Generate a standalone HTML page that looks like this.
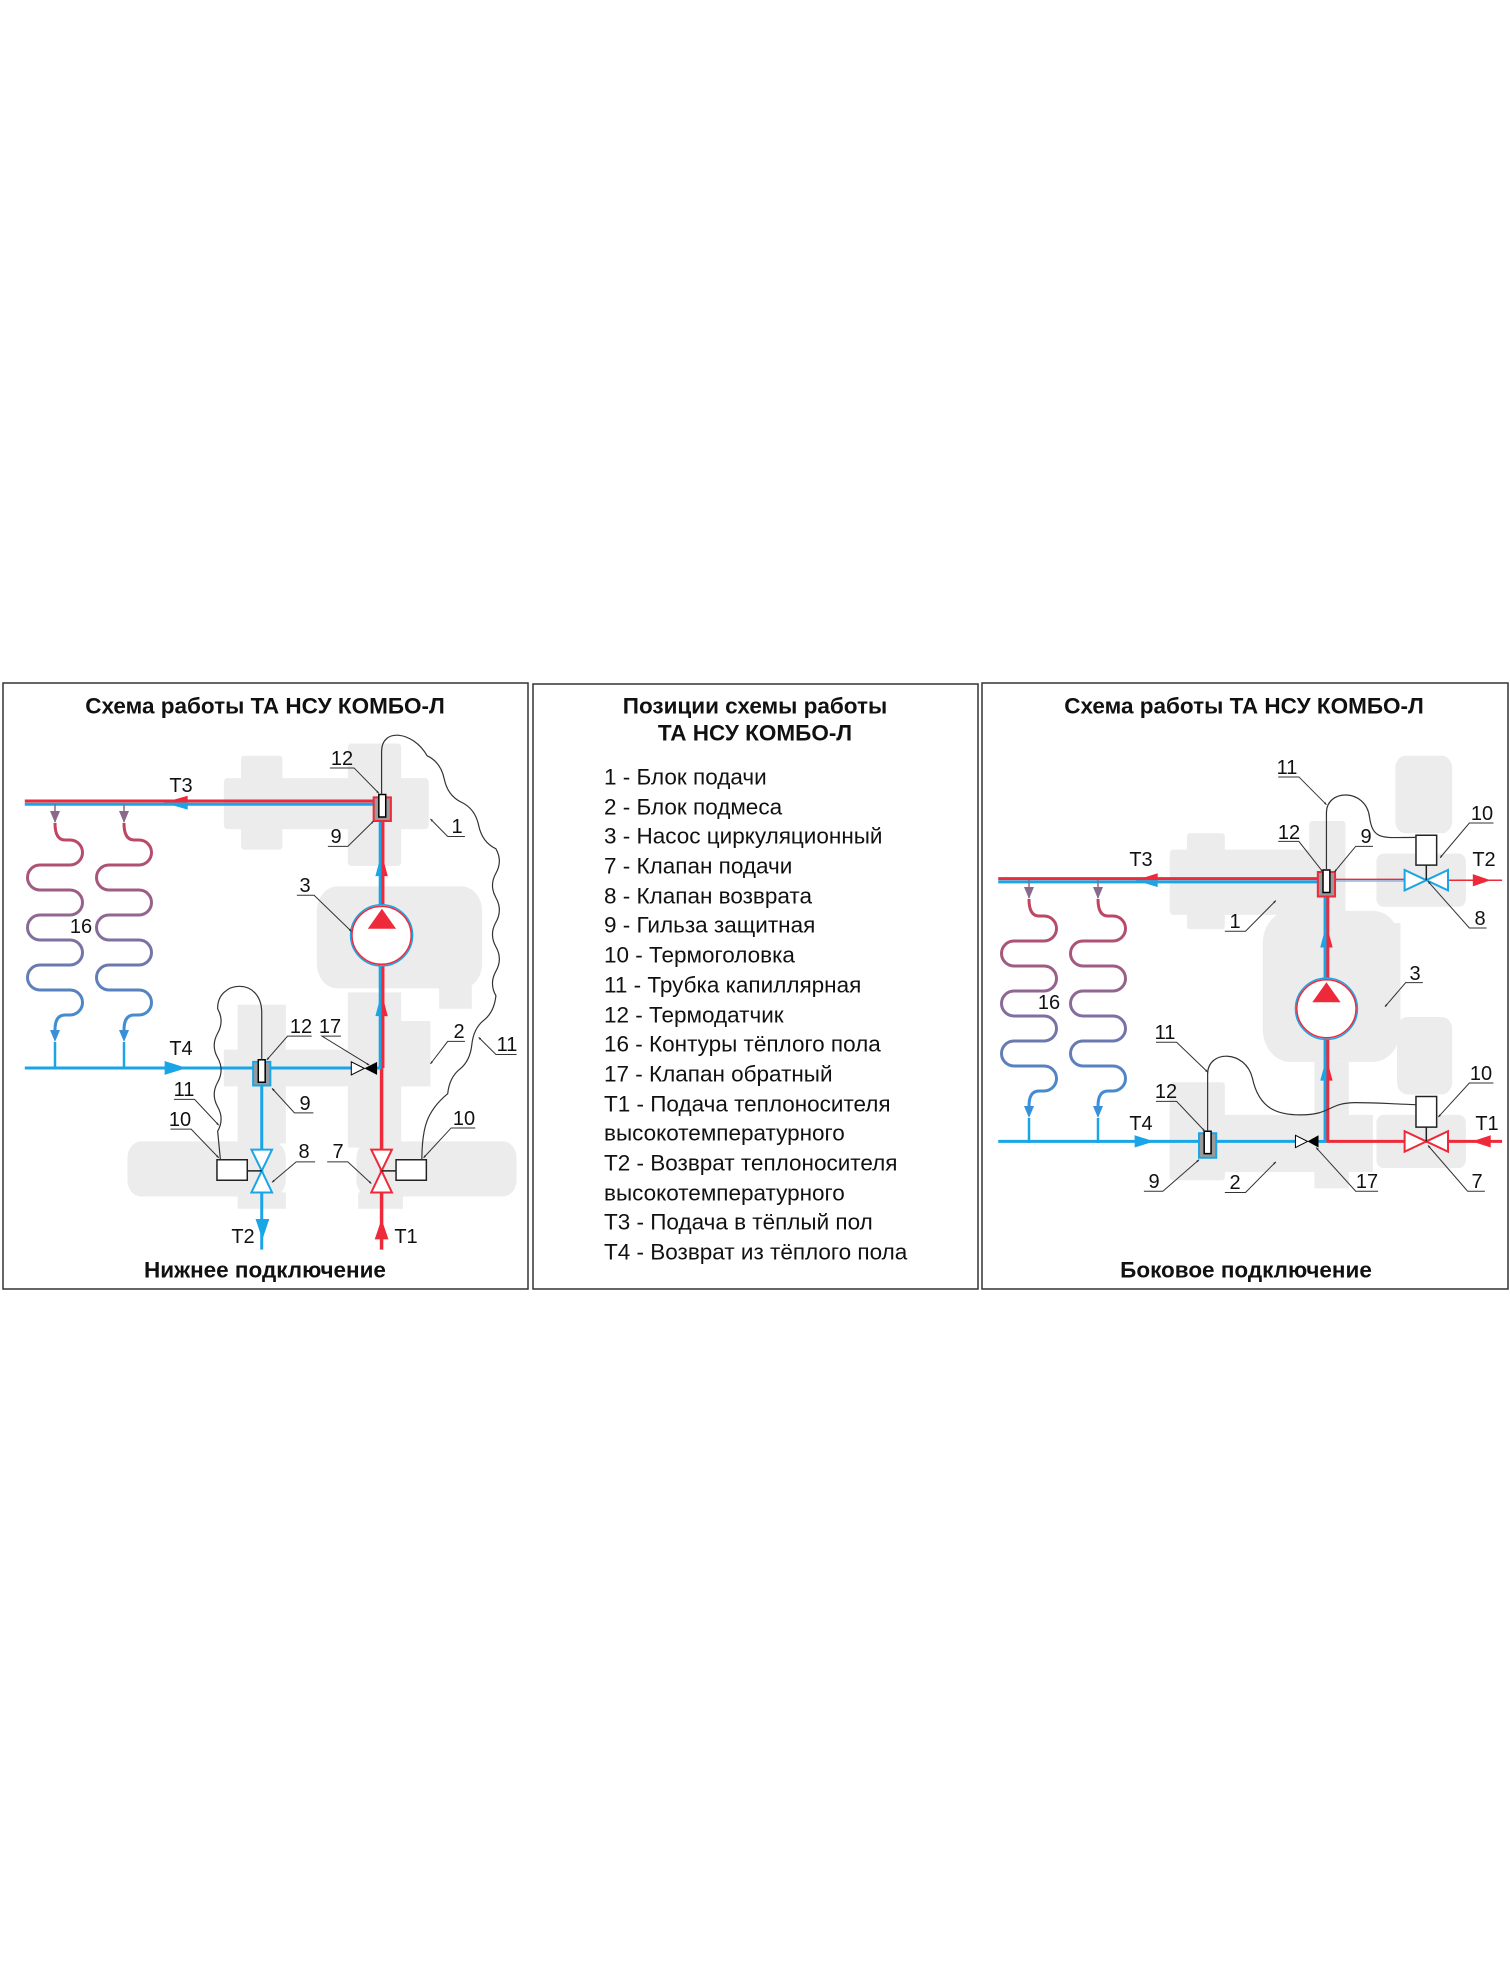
<!DOCTYPE html>
<html><head><meta charset="utf-8"><style>
html,body{margin:0;padding:0;background:#fff;}
body{width:1510px;height:1976px;position:relative;overflow:hidden;font-family:"Liberation Sans",sans-serif;}
svg{position:absolute;}
svg.z *{vector-effect:non-scaling-stroke;}
.g{fill:#ececec;stroke:none}
.cap{fill:none;stroke:#333;stroke-width:1.2}
.ld{fill:none;stroke:#333;stroke-width:1;marker-end:url(#ar)}
.ld2{fill:none;stroke:#333;stroke-width:1;marker-end:url(#ar2)}
</style></head><body>

<svg class="z" style="left:0;top:670px" width="540" height="640" viewBox="0 0 1568 1568" preserveAspectRatio="none">
<defs><marker id="ar" markerWidth="8" markerHeight="6" refX="7" refY="3" orient="auto" markerUnits="userSpaceOnUse"><path d="M0,0 L8,3 L0,6z" fill="#333"/></marker></defs>
<rect class="g" x="650" y="265" width="595" height="125" rx="10"/>
<rect class="g" x="700" y="210" width="120" height="230" rx="8"/>
<rect class="g" x="1010" y="180" width="155" height="300" rx="10"/>
<rect class="g" x="920" y="530" width="480" height="250" rx="60"/>
<rect class="g" x="1275" y="770" width="95" height="60"/>
<rect class="g" x="1010" y="790" width="155" height="380"/>
<rect class="g" x="650" y="930" width="600" height="90"/>
<rect class="g" x="1060" y="860" width="190" height="160"/>
<rect class="g" x="690" y="820" width="140" height="340"/>
<rect class="g" x="370" y="1155" width="460" height="135" rx="40"/>
<rect class="g" x="1035" y="1155" width="465" height="135" rx="40"/>
<rect class="g" x="690" y="1280" width="140" height="40"/>
<rect class="g" x="1040" y="1280" width="130" height="40"/>

<path d="M72,321 H1090" stroke="#ee2a3a" stroke-width="3"/>
<path d="M72,329 H1090" stroke="#1aa5e6" stroke-width="3"/>
<path d="M1104,370 V975" stroke="#1aa5e6" stroke-width="3"/>
<path d="M1112,370 V975" stroke="#ee2a3a" stroke-width="3"/>
<path d="M1108,975 V1420" stroke="#ee2a3a" stroke-width="3.5"/>
<ellipse cx="1108" cy="650" rx="90" ry="75" fill="#fff" stroke="#1aa5e6" stroke-width="1.5"/>
<ellipse cx="1108" cy="650" rx="86" ry="71" fill="#fff" stroke="#ee2a3a" stroke-width="1.5"/>
<polygon points="1068,634 1150,634 1109,585" fill="#ee2a3a"/>
<polygon points="1108,448 1090,505 1108,505" fill="#1aa5e6"/><polygon points="1108,448 1126,505 1108,505" fill="#ee2a3a"/>
<polygon points="1108,790 1090,848 1108,848" fill="#1aa5e6"/><polygon points="1108,790 1126,848 1108,848" fill="#ee2a3a"/>
<polygon points="475,325 545,308 545,325" fill="#ee2a3a"/><polygon points="475,325 545,342 545,325" fill="#1aa5e6"/>
<path d="M72,975 H1020 M1095,975 H1108" stroke="#1aa5e6" stroke-width="3"/>
<polygon points="478,958 478,992 542,975" fill="#1aa5e6"/>
<path d="M760,975 V1420" stroke="#1aa5e6" stroke-width="3"/>
<rect x="1085" y="312" width="50" height="58" fill="#9a9a9a" stroke="#ee2a3a" stroke-width="2"/>
<rect x="1100" y="305" width="20" height="55" fill="#fff" stroke="#000" stroke-width="1.5"/>
<rect x="735" y="960" width="50" height="58" fill="#9a9a9a" stroke="#1aa5e6" stroke-width="2"/>
<rect x="750" y="955" width="20" height="55" fill="#fff" stroke="#000" stroke-width="1.5"/>
<polygon points="1020,960 1020,992 1058,976" fill="#fff" stroke="#000" stroke-width="1"/>
<polygon points="1095,960 1095,992 1058,976" fill="#000"/>
<polygon points="730,1175 790,1175 760,1227 730,1280 790,1280 760,1227" fill="#fff" stroke="#1aa5e6" stroke-width="2"/>
<polygon points="1078,1175 1138,1175 1108,1227 1078,1280 1138,1280 1108,1227" fill="#fff" stroke="#ee2a3a" stroke-width="2"/>
<path d="M718,1227 H760 M1108,1227 H1150" stroke="#222" stroke-width="1.5"/>
<rect x="630" y="1200" width="88" height="50" fill="#fff" stroke="#222" stroke-width="1.5"/>
<rect x="1150" y="1200" width="88" height="50" fill="#fff" stroke="#222" stroke-width="1.5"/>
<polygon points="742,1345 782,1345 762,1395" fill="#1aa5e6"/>
<polygon points="1088,1395 1128,1395 1108,1345" fill="#ee2a3a"/>

<path class="cap" d="M1108,305 V200 C1108,140 1200,150 1240,210 q40,16 50,57 t50,57 t50,57 t50,57 q20,30 0,60 t0,60 t0,60 t0,60 t0,60 t0,60 q-5,40 -35,60 t-35,60 t-35,60 t-35,60 C1240,1080 1225,1120 1225,1200"/>
<path class="cap" d="M760,955 V840 C760,750 630,760 632,830 q20,30 0,60 t0,60 t0,60 t0,60 t0,60 L640,1200"/>

<path class="ld" d="M958,240 H1028 L1100,302"/>
<path class="ld" d="M952,432 H1010 L1085,370"/>
<path class="ld" d="M1350,408 H1300 L1250,365"/>
<path class="ld" d="M862,552 H912 L1020,640"/>
<path class="ld" d="M905,897 H835 L775,955"/>
<path class="ld" d="M990,897 H935 L1072,968"/>
<path class="ld" d="M1350,910 H1300 L1250,965"/>
<path class="ld" d="M1500,942 H1440 L1390,900"/>
<path class="ld" d="M910,1085 H855 L790,1025"/>
<path class="ld" d="M505,1052 H565 L635,1115"/>
<path class="ld" d="M495,1125 H555 L635,1195"/>
<path class="ld" d="M915,1205 H860 L790,1255"/>
<path class="ld" d="M950,1205 H1010 L1078,1258"/>
<path class="ld" d="M1380,1122 H1310 L1230,1195"/>
</svg>

<svg class="z" style="left:970px;top:670px" width="540" height="640" viewBox="0 0 1568 1568" preserveAspectRatio="none">
<defs><marker id="ar2" markerWidth="8" markerHeight="6" refX="7" refY="3" orient="auto" markerUnits="userSpaceOnUse"><path d="M0,0 L8,3 L0,6z" fill="#333"/></marker></defs>
<rect class="g" x="580" y="440" width="510" height="160" rx="10"/>
<rect class="g" x="630" y="400" width="110" height="235" rx="8"/>
<rect class="g" x="985" y="370" width="105" height="230" rx="8"/>
<rect class="g" x="1180" y="450" width="260" height="130" rx="20"/>
<rect class="g" x="1235" y="210" width="165" height="190" rx="30"/>
<rect class="g" x="1240" y="850" width="160" height="190" rx="30"/>
<rect class="g" x="850" y="590" width="400" height="370" rx="80"/>
<rect class="g" x="1170" y="620" width="80" height="70"/>
<rect class="g" x="1000" y="960" width="100" height="310"/>
<rect class="g" x="580" y="1010" width="160" height="240" rx="8"/>
<rect class="g" x="580" y="1090" width="590" height="140"/>
<rect class="g" x="1180" y="1090" width="260" height="130" rx="20"/>

<path d="M82,511 H1010" stroke="#ee2a3a" stroke-width="3"/>
<path d="M82,519 H1010" stroke="#1aa5e6" stroke-width="3"/>
<path d="M1060,513 H1262" stroke="#ee2a3a" stroke-width="1.5"/>
<path d="M1060,517 H1262" stroke="#8fb8e0" stroke-width="1.5"/>
<path d="M1388,515 H1545" stroke="#ee2a3a" stroke-width="1.5"/>
<polygon points="1460,500 1460,530 1512,515" fill="#ee2a3a"/>
<polygon points="480,515 545,498 545,515" fill="#ee2a3a"/><polygon points="480,515 545,532 545,515" fill="#1aa5e6"/>
<path d="M1031,555 V1155" stroke="#1aa5e6" stroke-width="3"/>
<path d="M1039,555 V1155" stroke="#ee2a3a" stroke-width="3"/>
<ellipse cx="1035" cy="830" rx="90" ry="75" fill="#fff" stroke="#1aa5e6" stroke-width="1.5"/>
<ellipse cx="1035" cy="830" rx="86" ry="71" fill="#fff" stroke="#ee2a3a" stroke-width="1.5"/>
<polygon points="994,814 1076,814 1035,765" fill="#ee2a3a"/>
<polygon points="1035,622 1017,680 1035,680" fill="#1aa5e6"/><polygon points="1035,622 1053,680 1035,680" fill="#ee2a3a"/>
<polygon points="1035,950 1017,1006 1035,1006" fill="#1aa5e6"/><polygon points="1035,950 1053,1006 1035,1006" fill="#ee2a3a"/>
<path d="M82,1155 H945" stroke="#1aa5e6" stroke-width="3"/>
<path d="M1010,1155 H1035" stroke="#1aa5e6" stroke-width="3"/>
<path d="M1035,1155 H1545" stroke="#ee2a3a" stroke-width="3"/>
<polygon points="945,1140 945,1170 980,1155" fill="#fff" stroke="#000" stroke-width="1"/>
<polygon points="1012,1140 1012,1170 980,1155" fill="#000"/>
<polygon points="478,1140 478,1170 535,1155" fill="#1aa5e6"/>
<polygon points="1512,1140 1512,1170 1458,1155" fill="#ee2a3a"/>
<polygon points="1262,490 1262,540 1325,515 1388,490 1388,540 1325,515" fill="#fff" stroke="#1aa5e6" stroke-width="2"/>
<polygon points="1262,1130 1262,1180 1325,1155 1388,1130 1388,1180 1325,1155" fill="#fff" stroke="#ee2a3a" stroke-width="2"/>
<path d="M1325,478 V515 M1325,1120 V1155" stroke="#222" stroke-width="1.5"/>
<rect x="1295" y="405" width="60" height="73" fill="#fff" stroke="#222" stroke-width="1.5"/>
<rect x="1295" y="1045" width="60" height="75" fill="#fff" stroke="#222" stroke-width="1.5"/>
<rect x="1010" y="495" width="50" height="60" fill="#9a9a9a" stroke="#ee2a3a" stroke-width="2"/>
<rect x="1025" y="490" width="20" height="55" fill="#fff" stroke="#000" stroke-width="1.5"/>
<rect x="665" y="1135" width="50" height="60" fill="#9a9a9a" stroke="#1aa5e6" stroke-width="2"/>
<rect x="680" y="1130" width="20" height="55" fill="#fff" stroke="#000" stroke-width="1.5"/>

<path class="cap" d="M1035,490 V350 C1035,290 1150,290 1160,360 C1170,420 1200,410 1295,410"/>
<path class="cap" d="M690,1130 V990 C690,930 800,930 820,1000 C840,1080 900,1090 960,1090 C1050,1090 1040,1060 1120,1060 C1180,1060 1200,1062 1295,1065"/>

<path class="ld2" d="M895,262 H955 L1035,330"/>
<path class="ld2" d="M895,420 H955 L1025,495"/>
<path class="ld2" d="M1170,432 H1120 L1058,495"/>
<path class="ld2" d="M1520,375 H1450 L1365,460"/>
<path class="ld2" d="M1500,632 H1450 L1330,518"/>
<path class="ld2" d="M740,640 H800 L888,565"/>
<path class="ld2" d="M1315,766 H1265 L1205,825"/>
<path class="ld2" d="M540,912 H600 L690,985"/>
<path class="ld2" d="M540,1057 H600 L682,1130"/>
<path class="ld2" d="M1520,1012 H1450 L1360,1095"/>
<path class="ld2" d="M505,1277 H560 L665,1200"/>
<path class="ld2" d="M740,1280 H800 L888,1205"/>
<path class="ld2" d="M1185,1277 H1120 L1005,1170"/>
<path class="ld2" d="M1495,1277 H1445 L1330,1165"/>
</svg>

<svg style="left:0;top:0" width="1510" height="1976" viewBox="0 0 1510 1976">
<defs>
<linearGradient id="cg" gradientUnits="userSpaceOnUse" x1="0" y1="822" x2="0" y2="1030">
<stop offset="0" stop-color="#c8405a"/><stop offset="0.5" stop-color="#8a6a98"/><stop offset="1" stop-color="#3a90d8"/></linearGradient>
<g id="coils">
<path d="M55,804 V822 M124,804 V822" stroke="#8a6a8a" stroke-width="1.5"/>
<polygon points="50,811 60,811 55,823" fill="#8a6a8a"/><polygon points="119,811 129,811 124,823" fill="#8a6a8a"/>
<path id="c1" d="M55,823 Q55,840 65,840 L70,840 A12.5,12.5 0 0 1 70,865 L40,865 A12.5,12.5 0 0 0 40,890 L70,890 A12.5,12.5 0 0 1 70,915 L40,915 A12.5,12.5 0 0 0 40,940 L70,940 A12.5,12.5 0 0 1 70,965 L40,965 A12.5,12.5 0 0 0 40,990 L70,990 A12.5,12.5 0 0 1 70,1015 L65,1015 Q55,1015 55,1030" fill="none" stroke="url(#cg)" stroke-width="3"/>
<use href="#c1" x="69"/>
<polygon points="50,1030 60,1030 55,1042" fill="#3a90d8"/><polygon points="119,1030 129,1030 124,1042" fill="#3a90d8"/>
<path d="M55,1042 V1067 M124,1042 V1067" stroke="#1aa5e6" stroke-width="2.5"/>
</g>
</defs>
<use href="#coils"/>
<use href="#coils" x="974" y="76"/>

<rect x="3" y="683" width="525" height="606" fill="none" stroke="#333" stroke-width="1.5"/>
<rect x="533" y="684" width="445" height="605" fill="none" stroke="#333" stroke-width="1.5"/>
<rect x="982" y="683" width="526" height="606" fill="none" stroke="#333" stroke-width="1.5"/>

<g font-family="Liberation Sans, sans-serif" font-size="20" fill="#111" text-anchor="middle" dominant-baseline="central">
<g font-weight="bold" font-size="22.5">
<text x="265" y="706">Схема работы ТА НСУ КОМБО-Л</text>
<text x="265" y="1270">Нижнее подключение</text>
<text x="1244" y="706">Схема работы ТА НСУ КОМБО-Л</text>
<text x="1246" y="1270">Боковое подключение</text>
<text x="755" y="706">Позиции схемы работы</text>
<text x="755" y="733">ТА НСУ КОМБО-Л</text>
</g>
<text x="342" y="759">12</text><text x="336" y="837">9</text><text x="457" y="827">1</text>
<text x="305" y="886">3</text><text x="81" y="927">16</text><text x="181" y="786">T3</text>
<text x="181" y="1049">T4</text><text x="243" y="1237">T2</text><text x="406" y="1237">T1</text>
<text x="301" y="1027">12</text><text x="330" y="1027">17</text><text x="459" y="1032">2</text>
<text x="507" y="1045">11</text><text x="305" y="1104">9</text><text x="184" y="1090">11</text>
<text x="180" y="1120">10</text><text x="304" y="1152">8</text><text x="338" y="1152">7</text>
<text x="464" y="1119">10</text>

<text x="1287" y="768">11</text><text x="1289" y="833">12</text><text x="1366" y="837">9</text>
<text x="1482" y="814">10</text><text x="1141" y="860">T3</text><text x="1484" y="860">T2</text>
<text x="1480" y="919">8</text><text x="1235" y="922">1</text><text x="1415" y="974">3</text>
<text x="1049" y="1003">16</text><text x="1165" y="1033">11</text><text x="1166" y="1092">12</text>
<text x="1481" y="1074">10</text><text x="1141" y="1124">T4</text><text x="1487" y="1124">T1</text>
<text x="1154" y="1182">9</text><text x="1235" y="1183">2</text><text x="1367" y="1182">17</text>
<text x="1477" y="1182">7</text>
</g>
<g font-family="Liberation Sans, sans-serif" font-size="22.5" fill="#111" dominant-baseline="central">
<text x="604" y="777">1 - Блок подачи</text>
<text x="604" y="807">2 - Блок подмеса</text>
<text x="604" y="836">3 - Насос циркуляционный</text>
<text x="604" y="866">7 - Клапан подачи</text>
<text x="604" y="896">8 - Клапан возврата</text>
<text x="604" y="925">9 - Гильза защитная</text>
<text x="604" y="955">10 - Термоголовка</text>
<text x="604" y="985">11 - Трубка капиллярная</text>
<text x="604" y="1015">12 - Термодатчик</text>
<text x="604" y="1044">16 - Контуры тёплого пола</text>
<text x="604" y="1074">17 - Клапан обратный</text>
<text x="604" y="1104">Т1 - Подача теплоносителя</text>
<text x="604" y="1133">высокотемпературного</text>
<text x="604" y="1163">Т2 - Возврат теплоносителя</text>
<text x="604" y="1193">высокотемпературного</text>
<text x="604" y="1222">Т3 - Подача в тёплый пол</text>
<text x="604" y="1252">Т4 - Возврат из тёплого пола</text>
</g>
</svg>
</body></html>
